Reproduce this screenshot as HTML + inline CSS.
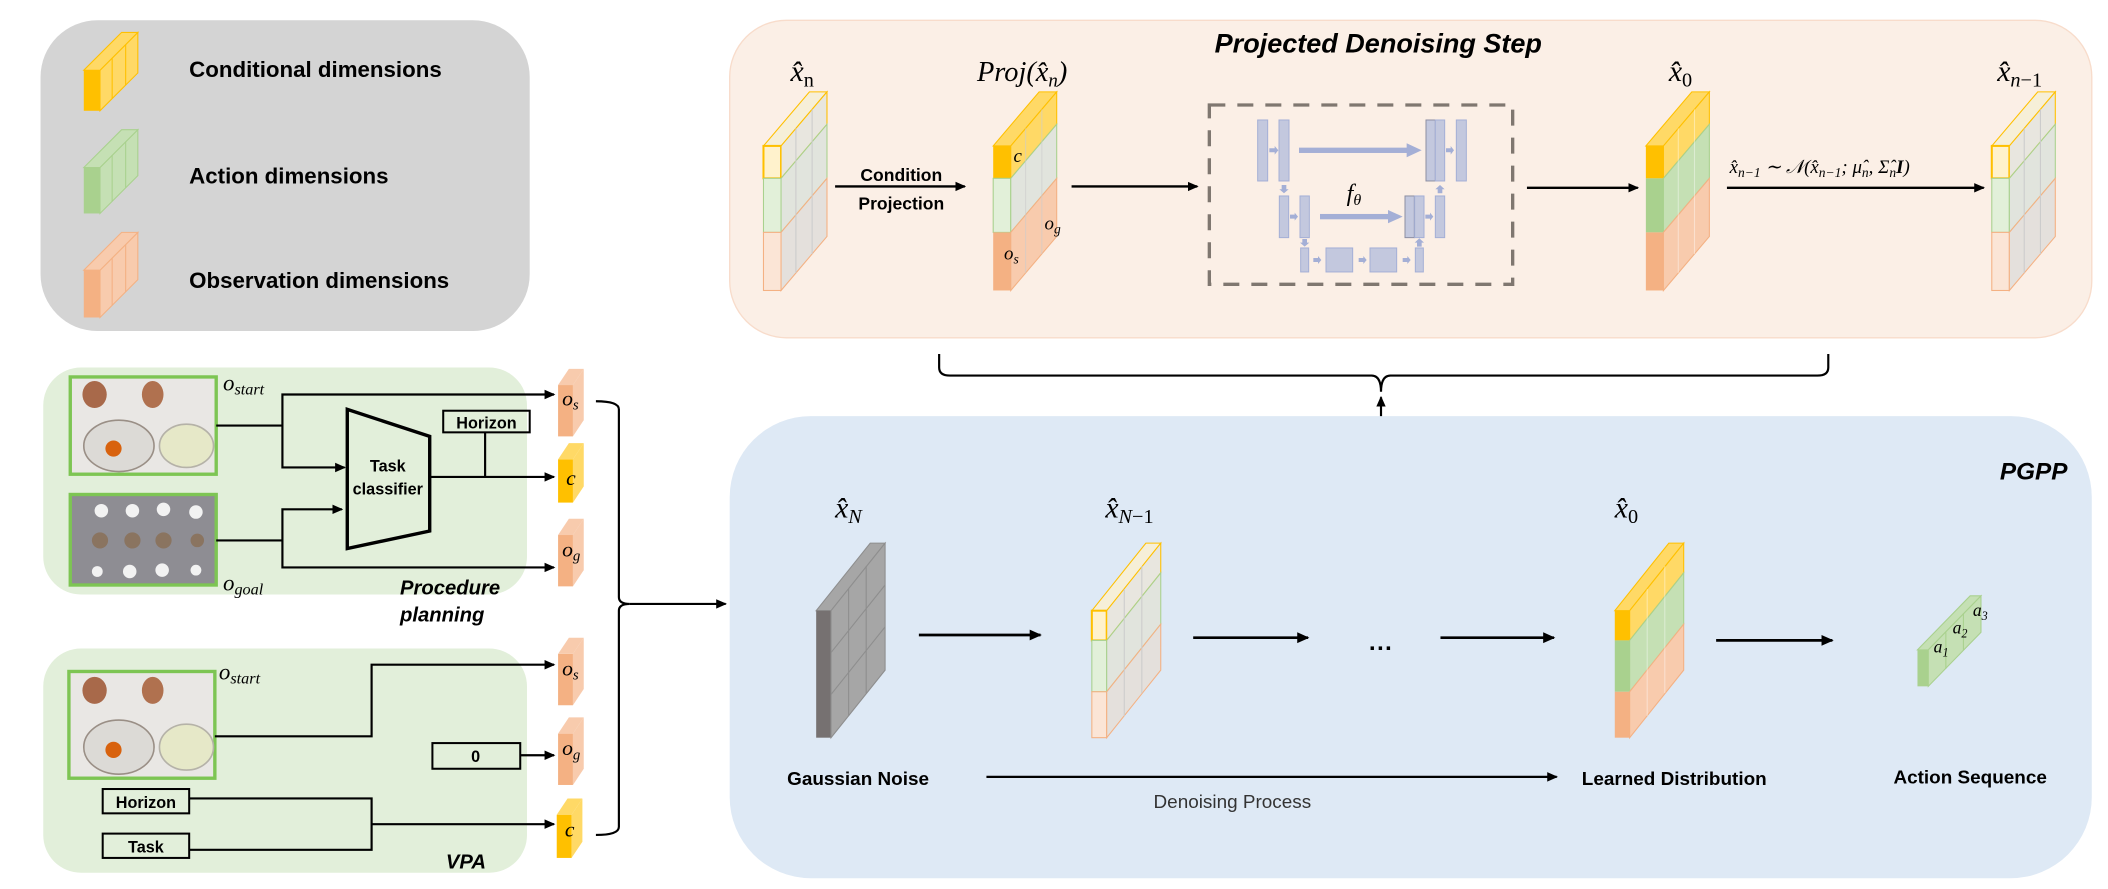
<!DOCTYPE html>
<html><head><meta charset="utf-8"><style>
html,body{margin:0;padding:0;background:#fff;}
svg{display:block;}
.b{font-family:"Liberation Sans",sans-serif;font-weight:bold;}
.m{font-family:"Liberation Serif",serif;font-style:italic;}
</style></head><body>
<svg width="2108" height="889" viewBox="0 0 1560 658" preserveAspectRatio="none" xmlns="http://www.w3.org/2000/svg">
<defs>
<marker id="ah" markerWidth="8" markerHeight="8" refX="7" refY="4" orient="auto" markerUnits="userSpaceOnUse"><path d="M0,0.5 L8,4 L0,7.5z" fill="#000"/></marker>
<marker id="ah2" markerWidth="10" markerHeight="10" refX="8" refY="5" orient="auto" markerUnits="userSpaceOnUse"><path d="M0,1 L9,5 L0,9z" fill="#000"/></marker>
</defs>

<!-- Legend -->
<rect x="30" y="15" width="362" height="230" rx="42" fill="#d4d4d4"/>
<g transform="translate(62,52)">
 <rect x="0" y="0" width="12" height="30" fill="#ffc000"/>
 <polygon points="12,0 40,-28 40,2 12,30" fill="#ffd966" stroke="#ffc000" stroke-width="0.8"/>
 <polygon points="0,0 12,0 40,-28 28,-28" fill="#ffd966" stroke="#ffc000" stroke-width="0.8"/>
 <line x1="21" y1="-9" x2="21" y2="21" stroke="#ffc000" stroke-width="0.8"/><line x1="31" y1="-19" x2="31" y2="11" stroke="#ffc000" stroke-width="0.8"/>
</g>
<g transform="translate(62,124)">
 <rect x="0" y="0" width="12" height="34" fill="#a9d18e"/>
 <polygon points="12,0 40,-28 40,6 12,34" fill="#c5e0b4" stroke="#a9d18e" stroke-width="0.8"/>
 <polygon points="0,0 12,0 40,-28 28,-28" fill="#c5e0b4" stroke="#a9d18e" stroke-width="0.8"/>
 <line x1="21" y1="-9" x2="21" y2="25" stroke="#a9d18e" stroke-width="0.8"/><line x1="31" y1="-19" x2="31" y2="15" stroke="#a9d18e" stroke-width="0.8"/>
</g>
<g transform="translate(62,200)">
 <rect x="0" y="0" width="12" height="35" fill="#f4b183"/>
 <polygon points="12,0 40,-28 40,7 12,35" fill="#f8cbad" stroke="#f4b183" stroke-width="0.8"/>
 <polygon points="0,0 12,0 40,-28 28,-28" fill="#f8cbad" stroke="#f4b183" stroke-width="0.8"/>
 <line x1="21" y1="-9" x2="21" y2="26" stroke="#f4b183" stroke-width="0.8"/><line x1="31" y1="-19" x2="31" y2="16" stroke="#f4b183" stroke-width="0.8"/>
</g>
<text x="140" y="57" class="b" font-size="16.5">Conditional dimensions</text>
<text x="140" y="136" class="b" font-size="16.5">Action dimensions</text>
<text x="140" y="213" class="b" font-size="16.5">Observation dimensions</text>

<!-- Procedure planning box -->
<rect x="32" y="272" width="358" height="168" rx="28" fill="#e2efda"/>
<g>
 <rect x="52" y="279" width="108" height="72" fill="#e9e7e4" stroke="#7dc553" stroke-width="2.5"/>
 <ellipse cx="70" cy="292" rx="9" ry="10" fill="#a8694a"/>
 <ellipse cx="113" cy="292" rx="8" ry="10" fill="#b0714f"/>
 <ellipse cx="88" cy="330" rx="26" ry="19" fill="#dcdad6" stroke="#9a8f86" stroke-width="1.2"/>
 <circle cx="84" cy="332" r="6" fill="#d8620e"/>
 <ellipse cx="138" cy="330" rx="20" ry="16" fill="#e6e8c8" stroke="#b5b2a8" stroke-width="1.2"/>
</g>
<g>
 <rect x="52" y="366" width="108" height="67" fill="#8e8d93" stroke="#7dc553" stroke-width="2.5"/>
 <g fill="#f2f2f2"><circle cx="75" cy="378" r="5"/><circle cx="98" cy="378" r="5"/><circle cx="121" cy="377" r="5"/><circle cx="145" cy="379" r="5"/><circle cx="72" cy="423" r="4"/><circle cx="96" cy="423" r="5"/><circle cx="120" cy="422" r="5"/><circle cx="145" cy="422" r="4"/></g>
 <g fill="#8a7460"><circle cx="74" cy="400" r="6"/><circle cx="98" cy="400" r="6"/><circle cx="121" cy="400" r="6"/><circle cx="146" cy="400" r="5"/></g>
</g>
<text x="165" y="289" class="m" font-size="17">o<tspan font-size="12" dy="3">start</tspan></text>
<text x="165" y="437" class="m" font-size="17">o<tspan font-size="12" dy="3">goal</tspan></text>
<g stroke="#000" stroke-width="1.6" fill="none">
 <path d="M160,315 H209 V292 H410" marker-end="url(#ah)"/>
 <path d="M209,315 V346 H255" marker-end="url(#ah)"/>
 <path d="M160,400 H209 V377 H253" marker-end="url(#ah)"/>
 <path d="M209,400 V420 H410" marker-end="url(#ah)"/>
 <path d="M318,353 H410" marker-end="url(#ah)"/>
 <path d="M359,320 V353"/>
</g>
<polygon points="257,303 318,323 318,393 257,406" fill="none" stroke="#000" stroke-width="2.5"/>
<text x="287" y="349" class="b" font-size="12" text-anchor="middle">Task</text>
<text x="287" y="366" class="b" font-size="12" text-anchor="middle">classifier</text>
<rect x="328" y="304" width="64" height="16" fill="none" stroke="#000" stroke-width="1.5"/>
<text x="360" y="317" class="b" font-size="12" text-anchor="middle">Horizon</text>
<text x="296" y="440" class="b" font-size="15" font-style="italic">Procedure</text>
<text x="296" y="460" class="b" font-size="15" font-style="italic">planning</text>

<!-- VPA box -->
<rect x="32" y="480" width="358" height="166" rx="28" fill="#e2efda"/>
<g>
 <rect x="51" y="497" width="108" height="79" fill="#e9e7e4" stroke="#7dc553" stroke-width="2.5"/>
 <ellipse cx="70" cy="511" rx="9" ry="10" fill="#a8694a"/>
 <ellipse cx="113" cy="511" rx="8" ry="10" fill="#b0714f"/>
 <ellipse cx="88" cy="553" rx="26" ry="20" fill="#dcdad6" stroke="#9a8f86" stroke-width="1.2"/>
 <circle cx="84" cy="555" r="6" fill="#d8620e"/>
 <ellipse cx="138" cy="553" rx="20" ry="17" fill="#e6e8c8" stroke="#b5b2a8" stroke-width="1.2"/>
</g>
<text x="162" y="503" class="m" font-size="17">o<tspan font-size="12" dy="3">start</tspan></text>
<rect x="76" y="584" width="64" height="18" fill="none" stroke="#000" stroke-width="1.5"/>
<text x="108" y="598" class="b" font-size="12" text-anchor="middle">Horizon</text>
<rect x="76" y="617" width="64" height="18" fill="none" stroke="#000" stroke-width="1.5"/>
<text x="108" y="631" class="b" font-size="12" text-anchor="middle">Task</text>
<rect x="320" y="550" width="65" height="19" fill="none" stroke="#000" stroke-width="1.5"/>
<text x="352" y="564" class="b" font-size="12" text-anchor="middle">0</text>
<g stroke="#000" stroke-width="1.6" fill="none">
 <path d="M159,545 H275 V492 H410" marker-end="url(#ah)"/>
 <path d="M385,559 H410" marker-end="url(#ah)"/>
 <path d="M140,591 H275 V629 H140"/>
 <path d="M275,610 H410" marker-end="url(#ah)"/>
</g>
<text x="330" y="643" class="b" font-size="15" font-style="italic">VPA</text>

<!-- small output cubes -->
<g>
<g transform="translate(413,285)"><rect width="11" height="38" fill="#f4b183"/><polygon points="11,0 19,-12 19,26 11,38" fill="#f8cbad"/><polygon points="0,0 11,0 19,-12 8,-12" fill="#f8cbad"/></g>
<g transform="translate(413,340)"><rect width="11" height="32" fill="#ffc000"/><polygon points="11,0 19,-12 19,20 11,32" fill="#ffd966"/><polygon points="0,0 11,0 19,-12 8,-12" fill="#ffd966"/></g>
<g transform="translate(413,396)"><rect width="11" height="38" fill="#f4b183"/><polygon points="11,0 19,-12 19,26 11,38" fill="#f8cbad"/><polygon points="0,0 11,0 19,-12 8,-12" fill="#f8cbad"/></g>
<g transform="translate(413,484)"><rect width="11" height="38" fill="#f4b183"/><polygon points="11,0 19,-12 19,26 11,38" fill="#f8cbad"/><polygon points="0,0 11,0 19,-12 8,-12" fill="#f8cbad"/></g>
<g transform="translate(413,543)"><rect width="11" height="38" fill="#f4b183"/><polygon points="11,0 19,-12 19,26 11,38" fill="#f8cbad"/><polygon points="0,0 11,0 19,-12 8,-12" fill="#f8cbad"/></g>
<g transform="translate(412,603)"><rect width="11" height="32" fill="#ffc000"/><polygon points="11,0 19,-12 19,20 11,32" fill="#ffd966"/><polygon points="0,0 11,0 19,-12 8,-12" fill="#ffd966"/></g>
</g>
<g class="m" font-size="16">
<text x="416" y="300">o<tspan font-size="11" dy="3">s</tspan></text>
<text x="419" y="359">c</text>
<text x="416" y="412">o<tspan font-size="11" dy="3">g</tspan></text>
<text x="416" y="500">o<tspan font-size="11" dy="3">s</tspan></text>
<text x="416" y="559">o<tspan font-size="11" dy="3">g</tspan></text>
<text x="418" y="619">c</text>
</g>
<g stroke="#000" stroke-width="1.6" fill="none">
 <path d="M441,297 Q458,297 458,303 V442 Q458,447 466,447 Q458,447 458,452 V612 Q458,618 441,618"/>
 <path d="M466,447 H537" marker-end="url(#ah)"/>
</g>

<!-- Top box -->
<rect x="540" y="15" width="1008" height="235" rx="42" fill="#fbefe6" stroke="#f8dccb" stroke-width="1"/>
<text x="1020" y="39" class="b" font-size="20" font-style="italic" text-anchor="middle">Projected Denoising Step</text>
<text x="585" y="60" class="m" font-size="22">x̂<tspan font-size="15" dy="4" font-style="normal">n</tspan></text>
<text x="723" y="60" class="m" font-size="21">Proj(x̂<tspan font-size="14" dy="4">n</tspan><tspan dy="-4">)</tspan></text>
<text x="1235" y="60" class="m" font-size="22">x̂<tspan font-size="15" dy="4" font-style="normal">0</tspan></text>
<text x="1478" y="60" class="m" font-size="22">x̂<tspan font-size="15" dy="4">n</tspan><tspan font-size="15" font-style="normal">−1</tspan></text>

<g transform="translate(565,108)" stroke-width="0.8">
 <polygon points="0,0 13,0 47,-40 34,-40" fill="#f6efd8" stroke="#ffc000"/>
 <rect width="13" height="24" fill="#fff2cc" stroke="#ffc000" stroke-width="1.5"/>
 <rect y="24" width="13" height="40" fill="#e2f0d9" stroke="#a9d18e"/>
 <rect y="64" width="13" height="43" fill="#fbe5d6" stroke="#f4b183"/>
 <polygon points="13,0 47,-40 47,-16 13,24" fill="#e8e6df" stroke="#ffc000"/>
 <polygon points="13,24 47,-16 47,24 13,64" fill="#e1e4dd" stroke="#a9d18e"/>
 <polygon points="13,64 47,24 47,67 13,107" fill="#e4e0dc" stroke="#f4b183"/>
 <line x1="24" y1="-13" x2="24" y2="94" stroke="#ccc"/><line x1="36" y1="-27" x2="36" y2="80" stroke="#ccc"/>
</g>
<g transform="translate(735,108)" stroke-width="0.8">
 <polygon points="0,0 13,0 47,-40 34,-40" fill="#ffd966" stroke="#ffc000"/>
 <rect width="13" height="24" fill="#ffc000"/>
 <rect y="24" width="13" height="40" fill="#e2f0d9" stroke="#a9d18e"/>
 <rect y="64" width="13" height="43" fill="#f4b183"/>
 <polygon points="13,0 47,-40 47,-16 13,24" fill="#ffd966" stroke="#ffc000"/>
 <polygon points="13,24 47,-16 47,24 13,64" fill="#e1e4dd" stroke="#a9d18e"/>
 <polygon points="13,64 47,24 47,67 13,107" fill="#f8cbad" stroke="#f4b183"/>
 <line x1="24" y1="-13" x2="24" y2="94" stroke="#ccc" stroke-opacity="0.6"/><line x1="36" y1="-27" x2="36" y2="80" stroke="#ccc" stroke-opacity="0.6"/>
</g>
<text x="750" y="120" class="m" font-size="14">c</text>
<text x="773" y="170" class="m" font-size="14">o<tspan font-size="10" dy="3">g</tspan></text>
<text x="743" y="192" class="m" font-size="14">o<tspan font-size="10" dy="3">s</tspan></text>
<g transform="translate(1218,108)" stroke-width="0.8">
 <polygon points="0,0 13,0 47,-40 34,-40" fill="#ffd966" stroke="#ffc000"/>
 <rect width="13" height="24" fill="#ffc000"/>
 <rect y="24" width="13" height="40" fill="#a9d18e"/>
 <rect y="64" width="13" height="43" fill="#f4b183"/>
 <polygon points="13,0 47,-40 47,-16 13,24" fill="#ffd966" stroke="#ffc000"/>
 <polygon points="13,24 47,-16 47,24 13,64" fill="#c5e0b4" stroke="#a9d18e"/>
 <polygon points="13,64 47,24 47,67 13,107" fill="#f8cbad" stroke="#f4b183"/>
 <line x1="24" y1="-13" x2="24" y2="94" stroke="#fff" stroke-opacity="0.4"/><line x1="36" y1="-27" x2="36" y2="80" stroke="#fff" stroke-opacity="0.4"/>
</g>
<g transform="translate(1474,108)" stroke-width="0.8">
 <polygon points="0,0 13,0 47,-40 34,-40" fill="#f6efd8" stroke="#ffc000"/>
 <rect width="13" height="24" fill="#fff2cc" stroke="#ffc000" stroke-width="1.5"/>
 <rect y="24" width="13" height="40" fill="#e2f0d9" stroke="#a9d18e"/>
 <rect y="64" width="13" height="43" fill="#fbe5d6" stroke="#f4b183"/>
 <polygon points="13,0 47,-40 47,-16 13,24" fill="#e8e6df" stroke="#ffc000"/>
 <polygon points="13,24 47,-16 47,24 13,64" fill="#e1e4dd" stroke="#a9d18e"/>
 <polygon points="13,64 47,24 47,67 13,107" fill="#e4e0dc" stroke="#f4b183"/>
 <line x1="24" y1="-13" x2="24" y2="94" stroke="#ccc"/><line x1="36" y1="-27" x2="36" y2="80" stroke="#ccc"/>
</g>
<g stroke="#000" stroke-width="1.8" fill="none">
 <path d="M618,138 H714" marker-end="url(#ah)"/>
 <path d="M793,138 H886" marker-end="url(#ah)"/>
 <path d="M1130,139 H1212" marker-end="url(#ah)"/>
 <path d="M1278,139 H1468" marker-end="url(#ah)"/>
</g>
<text x="667" y="134" class="b" font-size="13" text-anchor="middle">Condition</text>
<text x="667" y="155" class="b" font-size="13" text-anchor="middle">Projection</text>
<text x="1280" y="128" class="m" font-size="14">x̂<tspan font-size="10" dy="3">n−1</tspan><tspan dy="-3"> ∼ 𝒩(x̂</tspan><tspan font-size="10" dy="3">n−1</tspan><tspan dy="-3">; μ̂</tspan><tspan font-size="10" dy="3">n</tspan><tspan dy="-3">, Σ̂</tspan><tspan font-size="10" dy="3">n</tspan><tspan dy="-3" font-weight="bold">I</tspan>)</text>

<!-- UNet -->
<g transform="scale(0.74004) translate(1180,90) scale(0.33333)">
 <rect x="88" y="45" width="910" height="538" fill="none" stroke="#7f7770" stroke-width="10" stroke-dasharray="48,36"/>
 <g fill="#c3c8de" stroke="#a4afd6" stroke-width="3">
  <rect x="233" y="90" width="30" height="183"/><rect x="297" y="90" width="30" height="183"/>
  <rect x="738" y="90" width="28" height="183" stroke="#8d8fa3"/><rect x="766" y="90" width="28" height="183"/><rect x="829" y="90" width="30" height="183"/>
  <rect x="298" y="318" width="28" height="125"/><rect x="360" y="318" width="28" height="125"/>
  <rect x="675" y="318" width="28" height="125" stroke="#8d8fa3"/><rect x="704" y="318" width="28" height="125"/><rect x="766" y="318" width="28" height="125"/>
  <rect x="362" y="474" width="24" height="72"/><rect x="438" y="474" width="80" height="72"/><rect x="570" y="474" width="80" height="72"/><rect x="706" y="474" width="24" height="72"/>
 </g>
 <g fill="#a4afd6">
  <rect x="357" y="173" width="330" height="16"/><polygon points="680,160 725,181 680,202"/>
  <rect x="420" y="372" width="210" height="16"/><polygon points="624,360 668,380 624,400"/>
  <polygon points="268,175 284,175 284,168 295,181 284,194 284,187 268,187"/>
  <polygon points="330,374 344,374 344,368 354,380 344,392 344,386 330,386"/>
  <polygon points="798,175 812,175 812,168 822,181 812,194 812,187 798,187"/>
  <polygon points="736,374 750,374 750,368 760,380 750,392 750,386 736,386"/>
  <polygon points="400,504 414,504 414,498 424,510 414,522 414,516 400,516"/>
  <polygon points="536,504 550,504 550,498 560,510 550,522 550,516 536,516"/>
  <polygon points="668,504 682,504 682,498 692,510 682,522 682,516 668,516"/>
  <polygon points="305,285 319,285 319,298 326,298 312,310 298,298 305,298"/>
  <polygon points="367,447 381,447 381,458 388,458 374,470 360,458 367,458"/>
  <polygon points="773,310 787,310 787,298 794,298 780,285 766,298 773,298"/>
  <polygon points="711,470 725,470 725,458 732,458 718,445 704,458 711,458"/>
 </g>
 <text x="500" y="333" class="m" font-size="72">f<tspan font-size="48" dy="12">θ</tspan></text>
</g>

<g stroke="#000" stroke-width="1.6" fill="none">
 <path d="M695,262 V272 Q695,278 703,278 H1015 Q1022,278 1022,290 Q1022,278 1029,278 H1345 Q1353,278 1353,272 V262"/>
 <path d="M1022,455 V294" marker-end="url(#ah)"/>
</g>

<!-- Bottom blue box -->
<rect x="540" y="308" width="1008" height="342" rx="60" fill="#dee9f5"/>
<text x="1505" y="355" class="b" font-size="18" font-style="italic" text-anchor="middle">PGPP</text>
<text x="618" y="383" class="m" font-size="22">x̂<tspan font-size="15" dy="4">N</tspan></text>
<text x="818" y="383" class="m" font-size="22">x̂<tspan font-size="15" dy="4">N</tspan><tspan font-size="15" font-style="normal">−1</tspan></text>
<text x="1195" y="383" class="m" font-size="22">x̂<tspan font-size="15" dy="4" font-style="normal">0</tspan></text>

<g transform="translate(604,452)" stroke="#8e8e8e" stroke-width="0.8">
 <polygon points="0,0 11,0 51,-50 40,-50" fill="#a6a6a6"/>
 <rect width="11" height="94" fill="#767171" stroke="none"/>
 <polygon points="11,0 51,-50 51,44 11,94" fill="#a6a6a6"/>
 <line x1="24" y1="-16" x2="24" y2="78"/><line x1="37" y1="-33" x2="37" y2="61"/>
 <line x1="11" y1="31" x2="51" y2="-19"/><line x1="11" y1="62" x2="51" y2="12"/>
</g>
<g transform="translate(808,452)" stroke-width="0.8">
 <polygon points="0,0 11,0 51,-50 40,-50" fill="#f6efd8" stroke="#ffc000"/>
 <rect width="11" height="22" fill="#fff2cc" stroke="#ffc000" stroke-width="1.5"/>
 <rect y="22" width="11" height="38" fill="#e2f0d9" stroke="#a9d18e"/>
 <rect y="60" width="11" height="34" fill="#fbe5d6" stroke="#f4b183"/>
 <polygon points="11,0 51,-50 51,-28 11,22" fill="#e8e6df" stroke="#ffc000"/>
 <polygon points="11,22 51,-28 51,10 11,60" fill="#e1e4dd" stroke="#a9d18e"/>
 <polygon points="11,60 51,10 51,44 11,94" fill="#e4e0dc" stroke="#f4b183"/>
 <line x1="24" y1="-16" x2="24" y2="78" stroke="#ccc"/><line x1="37" y1="-33" x2="37" y2="61" stroke="#ccc"/>
</g>
<g transform="translate(1195,452)" stroke-width="0.8">
 <polygon points="0,0 11,0 51,-50 40,-50" fill="#ffd966" stroke="#ffc000"/>
 <rect width="11" height="22" fill="#ffc000"/>
 <rect y="22" width="11" height="38" fill="#a9d18e"/>
 <rect y="60" width="11" height="34" fill="#f4b183"/>
 <polygon points="11,0 51,-50 51,-28 11,22" fill="#ffd966" stroke="#ffc000"/>
 <polygon points="11,22 51,-28 51,10 11,60" fill="#c5e0b4" stroke="#a9d18e"/>
 <polygon points="11,60 51,10 51,44 11,94" fill="#f8cbad" stroke="#f4b183"/>
 <line x1="24" y1="-16" x2="24" y2="78" stroke="#fff" stroke-opacity="0.4"/><line x1="37" y1="-33" x2="37" y2="61" stroke="#fff" stroke-opacity="0.4"/>
</g>
<g transform="translate(1419,481)" stroke="#a9d18e" stroke-width="0.8">
 <polygon points="0,0 8,0 47,-40 39,-40" fill="#c5e0b4"/>
 <rect width="8" height="27" fill="#a9d18e" stroke="none"/>
 <polygon points="8,0 47,-40 47,-13 8,27" fill="#c5e0b4"/>
 <line x1="21" y1="-13" x2="21" y2="14"/><line x1="34" y1="-27" x2="34" y2="0"/>
</g>
<g class="m" font-size="13">
<text x="1431" y="483">a<tspan font-size="9" dy="3">1</tspan></text>
<text x="1445" y="469">a<tspan font-size="9" dy="3">2</tspan></text>
<text x="1460" y="456">a<tspan font-size="9" dy="3">3</tspan></text>
</g>
<g stroke="#000" stroke-width="2" fill="none">
 <path d="M680,470 H770" marker-end="url(#ah2)"/>
 <path d="M883,472 H968" marker-end="url(#ah2)"/>
 <path d="M1066,472 H1150" marker-end="url(#ah2)"/>
 <path d="M1270,474 H1356" marker-end="url(#ah2)"/>
 <path d="M730,575 H1152" stroke-width="1.6" marker-end="url(#ah)"/>
</g>
<text x="1022" y="486" class="b" font-size="18" text-anchor="middle">···</text>
<text x="635" y="581" class="b" font-size="14" text-anchor="middle">Gaussian Noise</text>
<text x="1239" y="581" class="b" font-size="14" text-anchor="middle">Learned Distribution</text>
<text x="1458" y="580" class="b" font-size="14" text-anchor="middle">Action Sequence</text>
<text x="912" y="598" font-family="Liberation Sans,sans-serif" font-size="14" fill="#333" text-anchor="middle">Denoising Process</text>
</svg>
</body></html>
